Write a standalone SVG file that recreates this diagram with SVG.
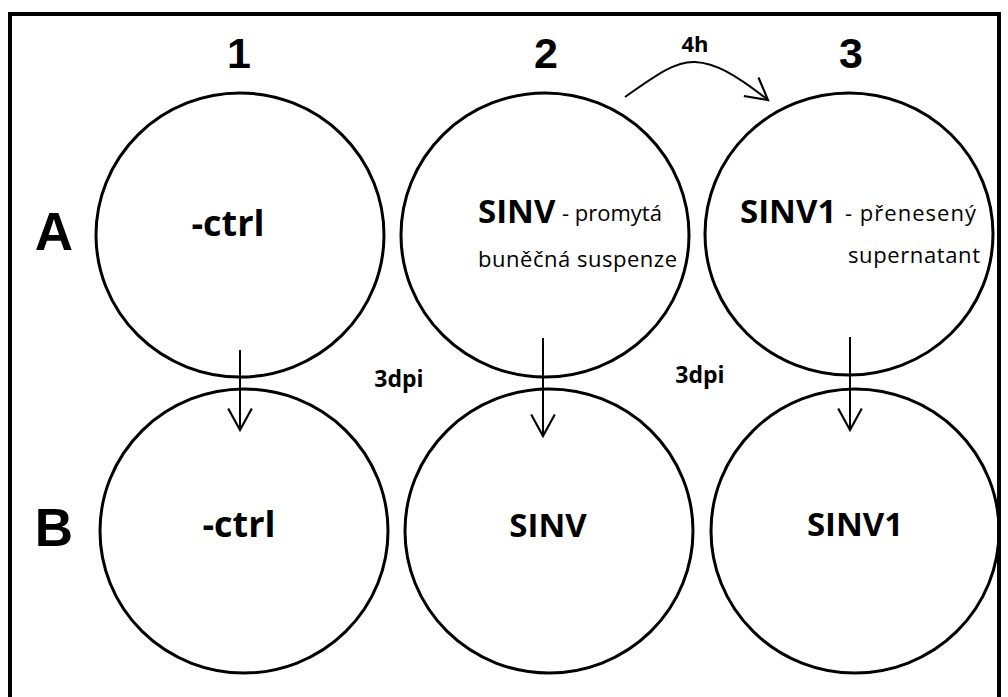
<svg xmlns="http://www.w3.org/2000/svg" width="1008" height="697" viewBox="0 0 1008 697">
<style>
.well{fill:none;stroke:#000;stroke-width:3}
.conn{fill:none;stroke:#000;stroke-width:2}
.hdr{font-family:"Liberation Sans",Arial,sans-serif;font-weight:bold;fill:#000;text-anchor:middle}
.num{font-family:"Liberation Sans Narrow","Liberation Sans",Arial,sans-serif;font-weight:bold;fill:#000;text-anchor:middle}
.lbl{font-family:"Open Sans","Liberation Sans",sans-serif;font-weight:bold;fill:#000}
.sub{font-family:"Open Sans","Liberation Sans",sans-serif;font-weight:normal;fill:#000}
</style>
<defs>
<marker id="vhead" markerUnits="userSpaceOnUse" markerWidth="30" markerHeight="30" viewBox="-24 -14 28 28" refX="0" refY="0" orient="auto">
<path d="M-20,-11 L0,0 L-20,11" fill="none" stroke="#000" stroke-width="2"/>
</marker>
</defs>
<rect x="0" y="0" width="1008" height="697" fill="#fff"/>
<rect x="10" y="14" width="989" height="700" fill="none" stroke="#000" stroke-width="4"/>
<g id="headers">
<text class="num" x="239" y="68" font-size="43">1</text>
<text class="num" x="546" y="68" font-size="43">2</text>
<text class="num" x="851" y="68" font-size="43">3</text>
<text class="hdr" x="54" y="250" font-size="53">A</text>
<text class="hdr" x="54" y="546" font-size="53">B</text>
</g>
<g id="A1">
<ellipse class="well" cx="240" cy="235" rx="144" ry="142"/>
<text class="lbl" x="228" y="236" font-size="36" text-anchor="middle">-ctrl</text>
</g>
<g id="A2">
<ellipse class="well" cx="545" cy="235" rx="144" ry="142"/>
<text class="lbl" x="478" y="223" font-size="33">SINV</text>
<text class="sub" x="562" y="221" font-size="22">- promytá</text>
<text class="sub" x="478" y="267" font-size="22" textLength="199">buněčná suspenze</text>
</g>
<g id="A3">
<ellipse class="well" cx="849" cy="234" rx="144" ry="141"/>
<text class="lbl" x="740" y="223" font-size="33">SINV1</text>
<text class="sub" x="845" y="221" font-size="22" textLength="131">- přenesený</text>
<text class="sub" x="848" y="263" font-size="22" textLength="132">supernatant</text>
</g>
<g id="B1">
<ellipse class="well" cx="244" cy="531" rx="144" ry="142"/>
<text class="lbl" x="239" y="537" font-size="36" text-anchor="middle">-ctrl</text>
</g>
<g id="B2">
<ellipse class="well" cx="549" cy="531" rx="144" ry="142"/>
<text class="lbl" x="548" y="537" font-size="33" text-anchor="middle">SINV</text>
</g>
<g id="B3">
<ellipse class="well" cx="855" cy="531" rx="144" ry="142"/>
<text class="lbl" x="855" y="536" font-size="33" text-anchor="middle">SINV1</text>
</g>
<g id="connectors">
<line class="conn" x1="240" y1="350" x2="240" y2="430" marker-end="url(#vhead)"/>
<line class="conn" x1="543" y1="338" x2="543" y2="436" marker-end="url(#vhead)"/>
<line class="conn" x1="850" y1="337" x2="850" y2="430" marker-end="url(#vhead)"/>
<path class="conn" d="M625,97 C655,76 675,61 695,62 C715,63 735,74 768,100" marker-end="url(#vhead)"/>
<text class="lbl" x="695" y="52" font-size="22" text-anchor="middle">4h</text>
<text class="lbl" x="399" y="387" font-size="23" text-anchor="middle">3dpi</text>
<text class="lbl" x="700" y="383" font-size="23" text-anchor="middle">3dpi</text>
</g>
</svg>
